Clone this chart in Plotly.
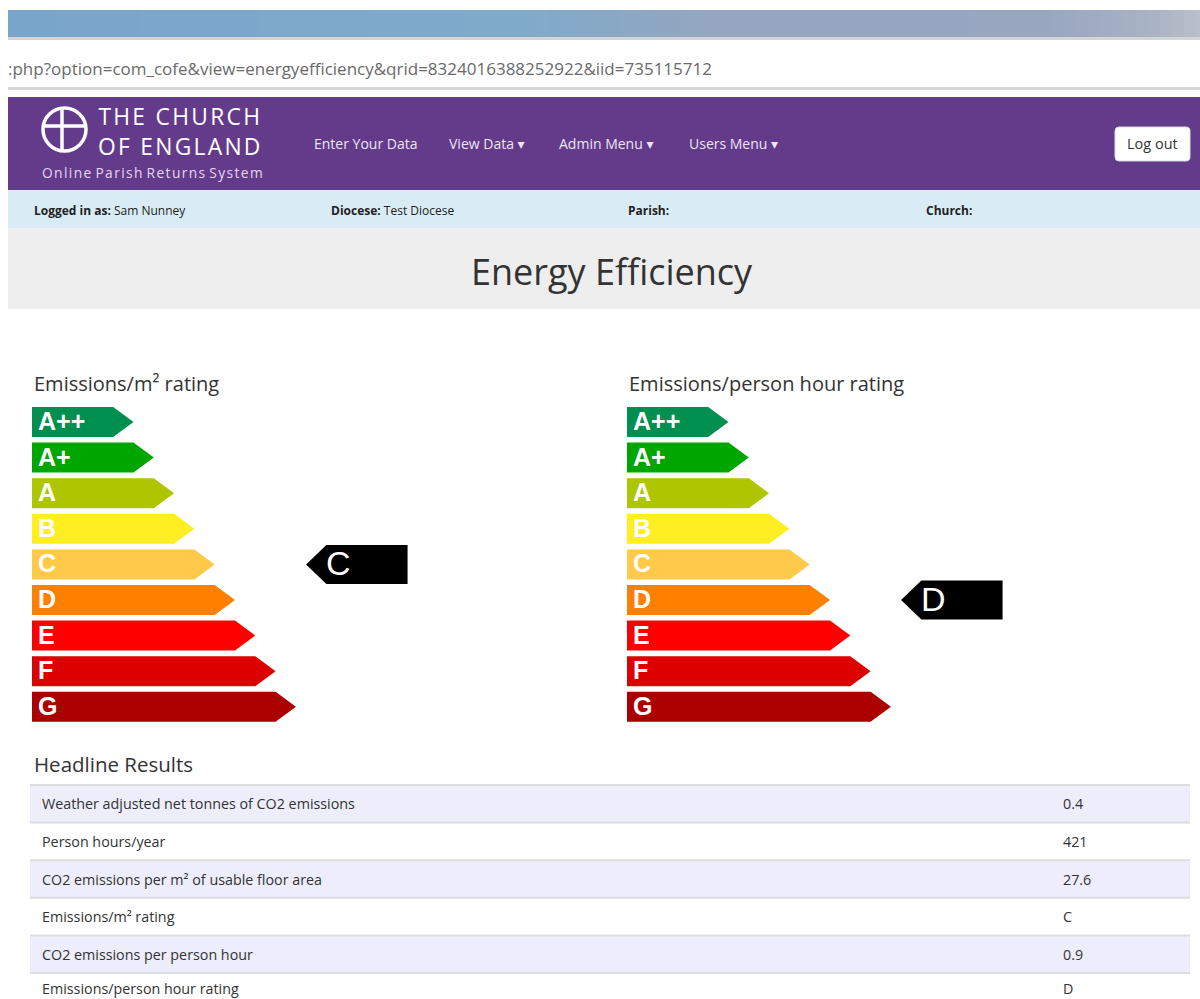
import plotly.graph_objects as go

W, H = 1200, 999

# ---------------- data ----------------
ratings = ["A++", "A+", "A", "B", "C", "D", "E", "F", "G"]
band_colors = ["#008f4f", "#00a600", "#aec600", "#ffee22", "#ffc94a",
               "#ff7f00", "#ff0000", "#dd0000", "#aa0000"]
band_length = [4, 5, 6, 7, 8, 9, 10, 11, 12]          # arrow body length (scale units)
chart_titles = ["Emissions/m² rating", "Emissions/person hour rating"]
chart_results = ["C", "D"]

table_labels = [
    "Weather adjusted net tonnes of CO2 emissions",
    "Person hours/year",
    "CO2 emissions per m² of usable floor area",
    "Emissions/m² rating",
    "CO2 emissions per person hour",
    "Emissions/person hour rating",
]
table_values = ["0.4", "421", "27.6", "C", "0.9", "D"]

nav_items = ["Enter Your Data", "View Data ▾", "Admin Menu ▾", "Users Menu ▾"]
info_items = [("Logged in as:", "Sam Nunney"), ("Diocese:", "Test Diocese"),
              ("Parish:", ""), ("Church:", "")]
url_text = ":php?option=com_cofe&view=energyefficiency&qrid=8324016388252922&iid=735115712"
logo_lines = ["THE CHURCH", "OF ENGLAND"]
logo_sub = "Online Parish Returns System"
page_title = "Energy Efficiency"
section_title = "Headline Results"

FONT = "Open Sans, DejaVu Sans, sans-serif"
ARIAL = "Liberation Sans, Arial, sans-serif"
HAIR = "\u200a"


def px(x):
    return x / W


def py(y):
    return 1 - y / H


def spaced(s):
    return HAIR.join(s)


fig = go.Figure()
shapes = []
annotations = []


def rect(x0, y0, x1, y1, color, line=None, layer="below"):
    d = dict(type="rect", xref="paper", yref="paper",
             x0=px(x0), x1=px(x1), y0=py(y1), y1=py(y0),
             fillcolor=color, layer=layer,
             line=dict(width=0) if line is None else line)
    shapes.append(d)


def text(x, y, s, size, color="#333333", family=FONT, xanchor="left", **kw):
    annotations.append(dict(xref="paper", yref="paper", x=px(x), y=py(y), text=s,
                            showarrow=False, xanchor=xanchor, yanchor="middle",
                            font=dict(size=size, color=color, family=family), **kw))


# ---------------- browser chrome ----------------
stops = [(8, (122, 165, 202)), (520, (128, 170, 202)), (640, (140, 168, 196)),
         (720, (150, 166, 192)), (1050, (152, 166, 192)), (1160, (170, 180, 196)),
         (1200, (186, 192, 202))]


def interp(x):
    for (xa, ca), (xb, cb) in zip(stops[:-1], stops[1:]):
        if xa <= x <= xb:
            t = (x - xa) / (xb - xa)
            return "rgb(%d,%d,%d)" % tuple(round(a + (b - a) * t) for a, b in zip(ca, cb))
    return "rgb(%d,%d,%d)" % stops[-1][1]


step = 12
for x in range(8, 1200, step):
    rect(x, 10, min(x + step + 1, 1200), 37, interp(x + step / 2))
rect(8, 37, 1200, 40, "#d4d4d4")
rect(8, 87, 1200, 90, "#d8d8d8")
text(6, 68, url_text, 17, color="#6a6a6a")

# ---------------- site header ----------------
rect(8, 97, 1200, 190, "#643b8b")
# logo
shapes.append(dict(type="circle", xref="paper", yref="paper",
                   x0=px(43), x1=px(86), y0=py(151), y1=py(108),
                   line=dict(color="white", width=3.5), layer="above"))
shapes.append(dict(type="line", xref="paper", yref="paper",
                   x0=px(62), x1=px(62), y0=py(109), y1=py(150),
                   line=dict(color="white", width=3.5), layer="above"))
shapes.append(dict(type="line", xref="paper", yref="paper",
                   x0=px(44), x1=px(85), y0=py(126), y1=py(126),
                   line=dict(color="white", width=3.5), layer="above"))
text(96, 131.5, "<br>".join(spaced(s) for s in logo_lines), 22.8, color="white")
text(40, 172, (HAIR * 3).join(spaced(w) for w in logo_sub.split(" ")), 13.8, color="#e2d8ee")
nav_x = [312, 447, 557, 687]
for x, s in zip(nav_x, nav_items):
    text(x, 144, s, 14, color="#ece6f3")
# log out button
shapes.append(dict(type="path", xref="paper", yref="paper",
                   path="M %f %f L %f %f Q %f %f %f %f L %f %f Q %f %f %f %f L %f %f Q %f %f %f %f L %f %f Q %f %f %f %f Z" % (
                       px(1119), py(127), px(1186), py(127), px(1190), py(127), px(1190), py(131),
                       px(1190), py(157), px(1190), py(161), px(1186), py(161),
                       px(1119), py(161), px(1115), py(161), px(1115), py(157),
                       px(1115), py(131), px(1115), py(127), px(1119), py(127)),
                   fillcolor="white", line=dict(color="#dddddd", width=1), layer="above"))
text(1152.5, 144, "Log out", 14.5, color="#333333", xanchor="center")

# info bar
rect(8, 190, 1200, 228, "#d9ecf5")
info_x = [32, 329, 626, 924]
for x, (lab, val) in zip(info_x, info_items):
    s = "<b>%s</b>" % lab + (" " + val if val else "")
    text(x, 210, s, 12, color="#222222")

# title band
rect(8, 228, 1200, 309, "#eeeeee")
text(612, 271, page_title, 36, color="#333333", xanchor="center")

# ---------------- rating charts ----------------
UNIT = 20.3            # px per scale unit
ROW = 35.6             # px per rating row
ROW0 = 422             # centre of first row
chart_x0 = [32, 627]
half_bar = 15 / ROW
half_ind = 19.5 / ROW
ind_tip, ind_body, ind_end = 13.5, 14.5, 18.5
ind_text = 15.1

y_top = ROW0 - ROW
y_bot = ROW0 + 9 * ROW

for k in range(2):
    xa = "x" if k == 0 else "x2"
    ya = "y" if k == 0 else "y2"
    axname = "" if k == 0 else "2"
    fig.update_layout(**{
        "xaxis" + axname: dict(domain=[px(chart_x0[k]), px(chart_x0[k] + 400)],
                               range=[0, 400 / UNIT], visible=False, fixedrange=True),
        "yaxis" + axname: dict(domain=[py(y_bot), py(y_top)], range=[9, -1],
                               visible=False, fixedrange=True),
    })
    for i, (r, c, L) in enumerate(zip(ratings, band_colors, band_length)):
        fig.add_trace(go.Scatter(
            x=[0, L, L + 1, L, 0, 0],
            y=[i - half_bar, i - half_bar, i, i + half_bar, i + half_bar, i - half_bar],
            fill="toself", fillcolor=c, mode="lines", line=dict(width=0, color=c),
            hoverinfo="skip", showlegend=False, xaxis=xa, yaxis=ya))
        annotations.append(dict(xref=xa, yref=ya, x=0.2, y=i, text="<b>%s</b>" % r,
                                showarrow=False, xanchor="left", yanchor="middle", yshift=1,
                                font=dict(size=25, color="white", family=ARIAL)))
    ri = ratings.index(chart_results[k])
    fig.add_trace(go.Scatter(
        x=[ind_tip, ind_body, ind_end, ind_end, ind_body, ind_tip],
        y=[ri, ri - half_ind, ri - half_ind, ri + half_ind, ri + half_ind, ri],
        fill="toself", fillcolor="black", mode="lines", line=dict(width=0, color="black"),
        hoverinfo="skip", showlegend=False, xaxis=xa, yaxis=ya))
    annotations.append(dict(xref=xa, yref=ya, x=ind_text, y=ri, text=chart_results[k],
                            showarrow=False, xanchor="center", yanchor="middle", yshift=1,
                            font=dict(size=34, color="white", family=ARIAL)))
    text(chart_x0[k], 383, chart_titles[k], 20, color="#333333")

# ---------------- headline table ----------------
text(32, 764, section_title, 20.5, color="#333333")
ROW_H = 37.6
T0 = 785
for j, (lab, val) in enumerate(zip(table_labels, table_values)):
    top = T0 + j * ROW_H
    rect(30, top, 1190, top + ROW_H, "#ededfb" if j % 2 == 0 else "white")
    shapes.append(dict(type="line", xref="paper", yref="paper",
                       x0=px(30), x1=px(1190), y0=py(top), y1=py(top),
                       line=dict(color="#dddddd", width=2), layer="below"))
    yc = min(top + ROW_H / 2, 988.5)
    text(40, yc, lab, 14.3, color="#333333")
    text(1061, yc, val, 14.3, color="#333333")

fig.update_layout(
    width=W, height=H, margin=dict(l=0, r=0, t=0, b=0),
    paper_bgcolor="white", plot_bgcolor="rgba(0,0,0,0)",
    shapes=shapes, annotations=annotations, showlegend=False,
)
fig.write_html("out.html", config={"displayModeBar": False},
               post_script="document.body.style.margin='0';document.body.style.overflow='hidden';")
